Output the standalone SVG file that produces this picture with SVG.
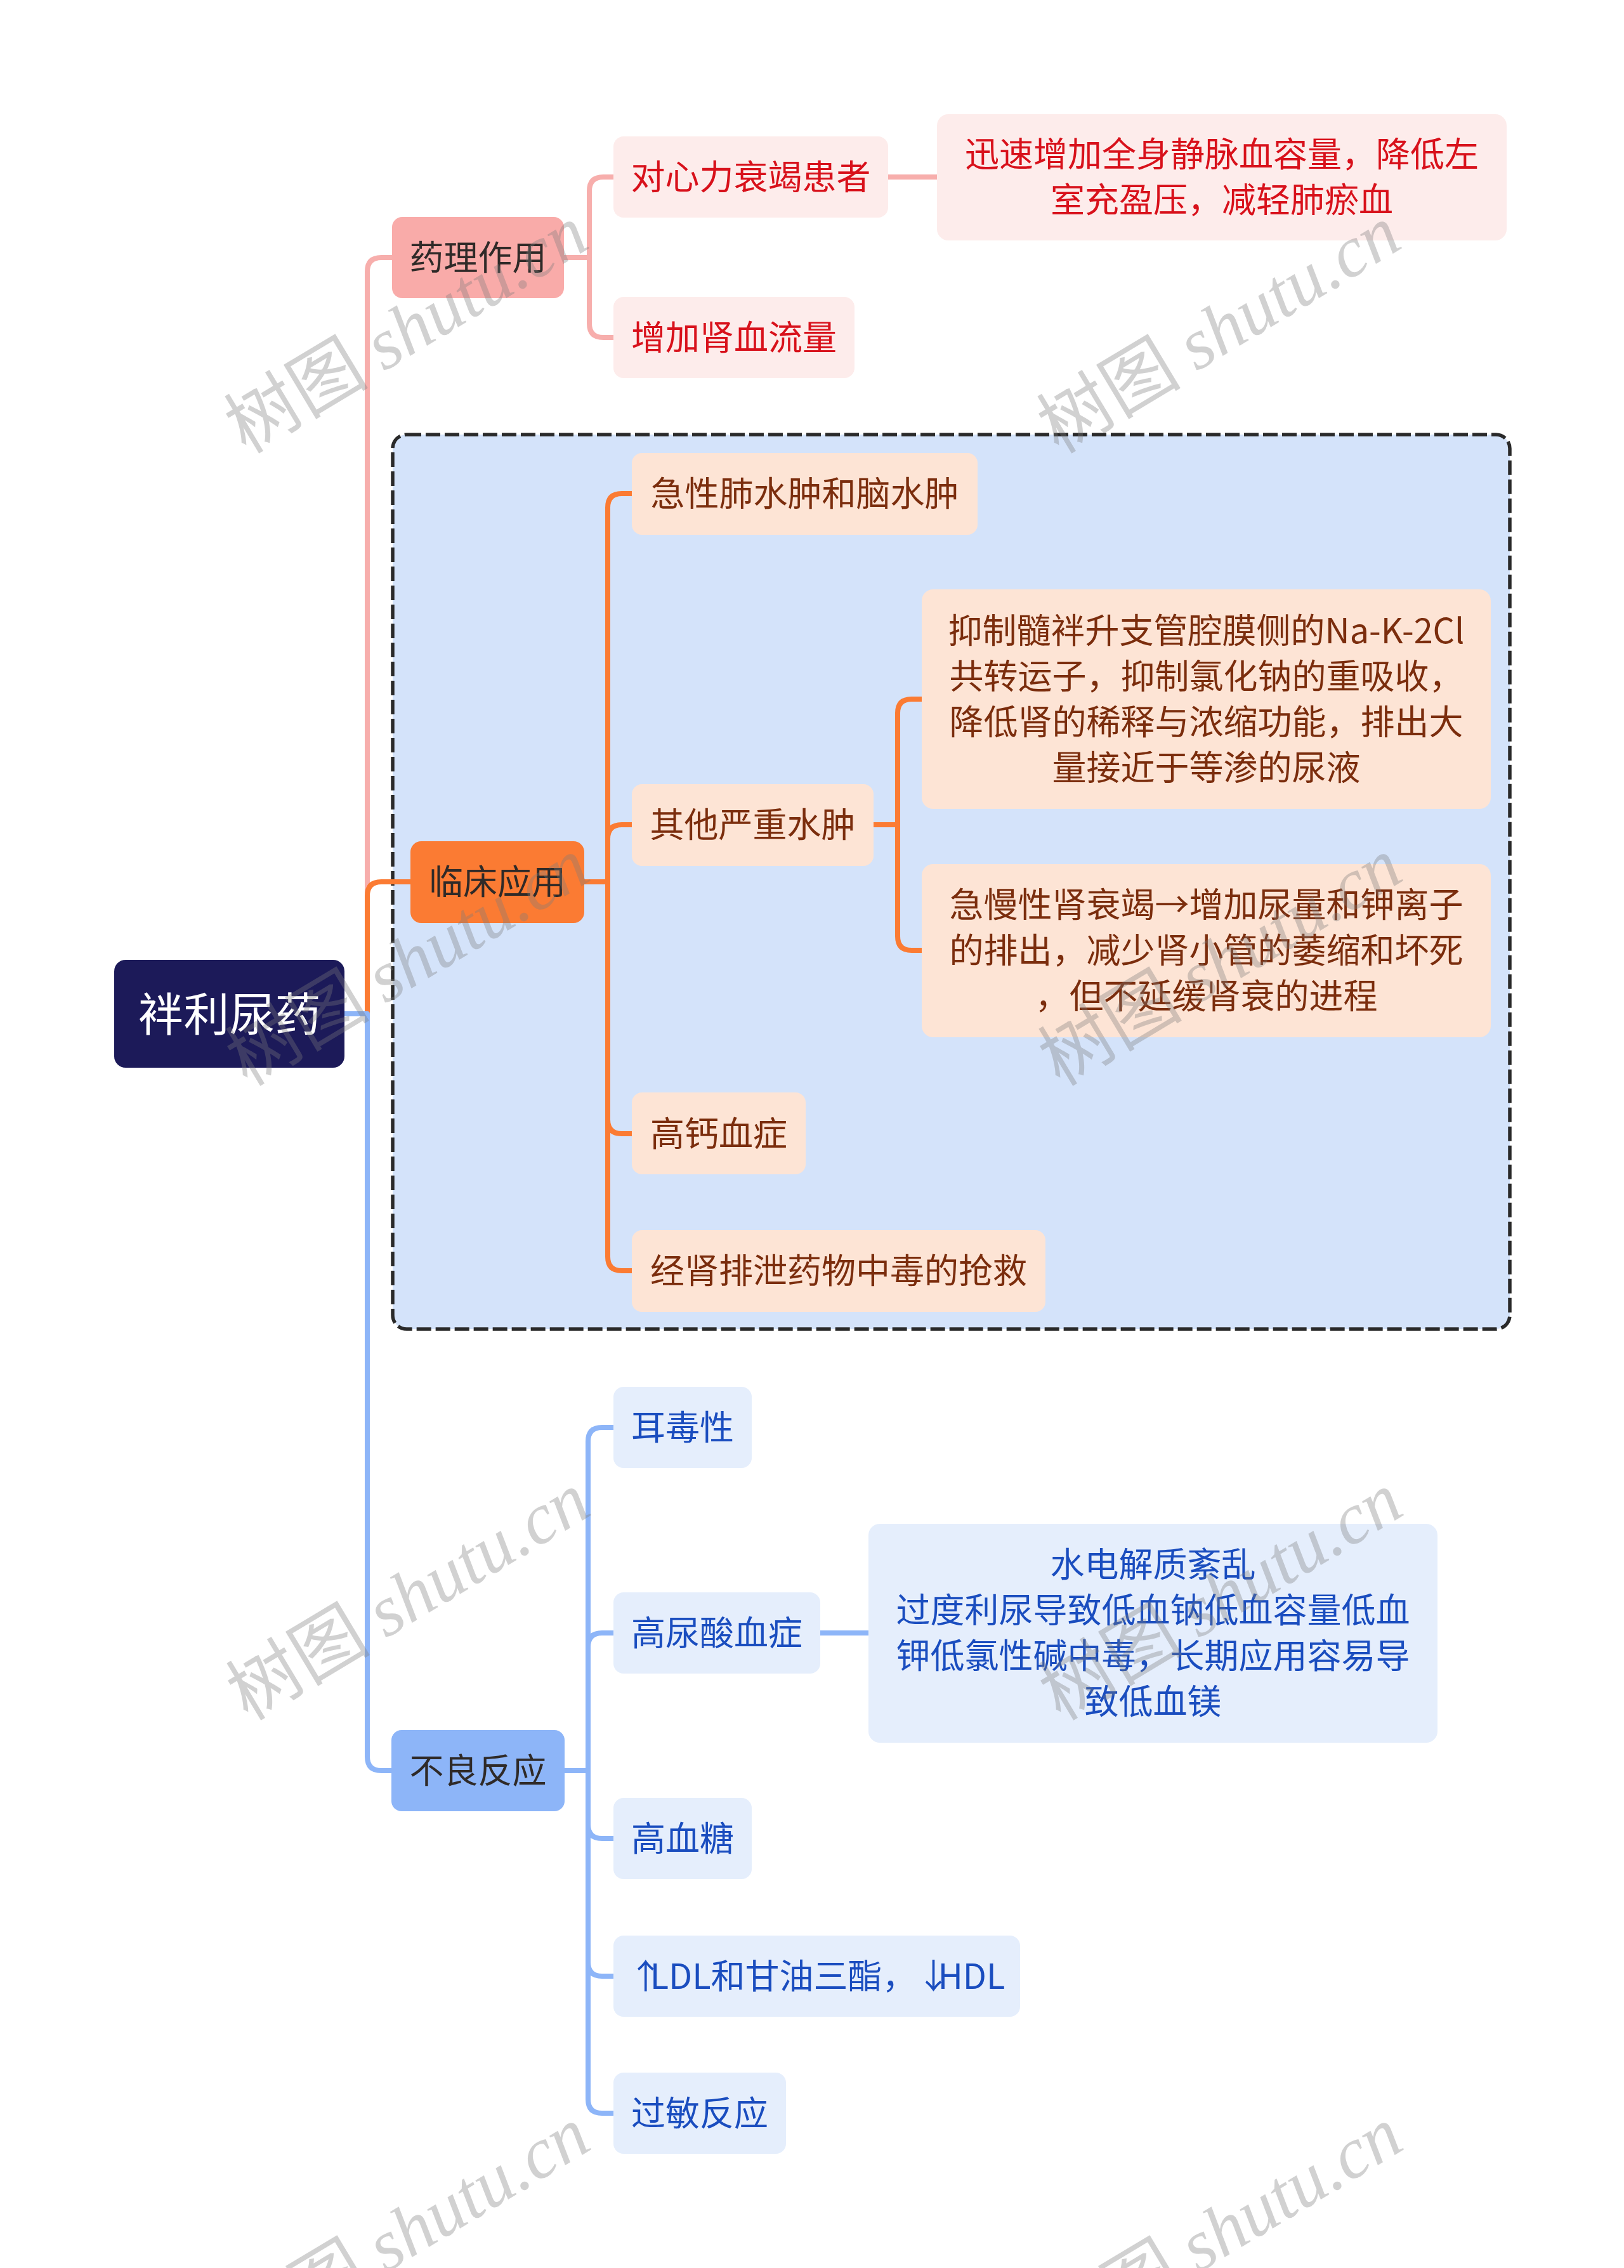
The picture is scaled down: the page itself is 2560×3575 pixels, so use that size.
<svg xmlns="http://www.w3.org/2000/svg" width="2560" height="3575" viewBox="0 0 2560 3575">
<style>
  text { font-family: "Noto Sans CJK SC", "Noto Sans", sans-serif; text-anchor: middle; }
  .root-box { fill: #1c1a59; }
  .root-txt { fill: #ffffff; font-size: 72px; }
  .l1-pink { fill: #f9aba9; }
  .l1-orange { fill: #fb7b33; }
  .l1-blue { fill: #8db5f8; }
  .l1-txt { fill: #2f2a28; font-size: 54px; }
  .n-pink { fill: #fdeceb; }
  .n-orange { fill: #fde4d5; }
  .n-blue { fill: #e5eefc; }
  .tx-pink { fill: #d8111b; font-size: 54px; }
  .tx-orange { fill: #7b2d0d; font-size: 54px; }
  .tx-blue { fill: #1a4dbf; font-size: 54px; }
  .c { fill: none; stroke-width: 8; stroke-linejoin: round; }
  .c-pink { stroke: #f7aeac; }
  .c-orange { stroke: #fb7b33; }
  .c-blue { stroke: #8db5f8; }
  .wm { fill: #7a7a7a; fill-opacity: 0.35; font-size: 114px; text-anchor: middle; }
  .wm-cjk { font-family: "Noto Sans CJK SC", serif; }
  .wm-lat { font-family: "Liberation Serif", serif; font-style: italic; }
</style>
<rect width="2560" height="3575" fill="#ffffff"/>

<g id="group-box">
  <rect x="619" y="685" width="1761" height="1410" rx="22" fill="#d4e3fa" stroke="#2a2a2a" stroke-width="5.5" stroke-dasharray="23 7"/>
</g>

<g id="connectors">
  <path class="c c-pink" d="M543,1598 H579 V428 Q579,406 601,406 H618"/>
  <path class="c c-orange" d="M543,1598 H579 V1412 Q579,1390 601,1390 H647"/>
  <path class="c c-blue" d="M543,1598 H579 V2769 Q579,2791 601,2791 H617"/>

  <path class="c c-pink" d="M889,406 H929 V301 Q929,279 951,279 H967"/>
  <path class="c c-pink" d="M889,406 H929 V510 Q929,532 951,532 H967"/>
  <path class="c c-pink" d="M1400,279 H1477"/>

  <path class="c c-orange" d="M921,1390 H958 V800 Q958,778 980,778 H996"/>
  <path class="c c-orange" d="M921,1390 H958 V1322 Q958,1300 980,1300 H996"/>
  <path class="c c-orange" d="M921,1390 H958 V1765 Q958,1787 980,1787 H996"/>
  <path class="c c-orange" d="M921,1390 H958 V1981 Q958,2003 980,2003 H996"/>
  <path class="c c-orange" d="M1377,1300 H1415 V1124 Q1415,1102 1437,1102 H1453"/>
  <path class="c c-orange" d="M1377,1300 H1415 V1476 Q1415,1498 1437,1498 H1453"/>

  <path class="c c-blue" d="M890,2791 H927 V2272 Q927,2250 949,2250 H967"/>
  <path class="c c-blue" d="M890,2791 H927 V2596 Q927,2574 949,2574 H967"/>
  <path class="c c-blue" d="M890,2791 H927 V2876 Q927,2898 949,2898 H967"/>
  <path class="c c-blue" d="M890,2791 H927 V3093 Q927,3115 949,3115 H967"/>
  <path class="c c-blue" d="M890,2791 H927 V3309 Q927,3331 949,3331 H967"/>
  <path class="c c-blue" d="M1293,2574 H1369"/>
</g>

<g id="root">
  <rect class="root-box" x="180" y="1513" width="363" height="170" rx="18"/>
  <text class="root-txt" x="361.5" y="1625">袢利尿药</text>
</g>

<g id="n-yaoli">
  <rect class="l1-pink" x="618" y="342" width="271" height="128" rx="16"/>
  <text class="l1-txt" x="753.5" y="426">药理作用</text>
</g>
<g id="n-xinli">
  <rect class="n-pink" x="967" y="215" width="433" height="128" rx="16"/>
  <text class="tx-pink" x="1183.5" y="299">对心力衰竭患者</text>
</g>
<g id="n-xunsu">
  <rect class="n-pink" x="1477" y="180" width="898" height="199" rx="18"/>
  <text class="tx-pink" x="1926" y="263">迅速增加全身静脉血容量，降低左</text>
  <text class="tx-pink" x="1926" y="335">室充盈压，减轻肺瘀血</text>
</g>
<g id="n-shenxue">
  <rect class="n-pink" x="967" y="468" width="380" height="128" rx="16"/>
  <text class="tx-pink" x="1157" y="552">增加肾血流量</text>
</g>

<g id="n-linchuang">
  <rect class="l1-orange" x="647" y="1326" width="274" height="129" rx="17"/>
  <text class="l1-txt" x="784" y="1410">临床应用</text>
</g>
<g id="n-jixing">
  <rect class="n-orange" x="996" y="714" width="545" height="129" rx="16"/>
  <text class="tx-orange" x="1268.5" y="798">急性肺水肿和脑水肿</text>
</g>
<g id="n-qita">
  <rect class="n-orange" x="996" y="1236" width="381" height="129" rx="16"/>
  <text class="tx-orange" x="1186.5" y="1320">其他严重水肿</text>
</g>
<g id="n-yizhi">
  <rect class="n-orange" x="1453" y="929" width="897" height="346" rx="18"/>
  <text class="tx-orange" x="1901.5" y="1014">抑制髓袢升支管腔膜侧的Na-K-2Cl</text>
  <text class="tx-orange" x="1901.5" y="1086">共转运子，抑制氯化钠的重吸收，</text>
  <text class="tx-orange" x="1901.5" y="1158">降低肾的稀释与浓缩功能，排出大</text>
  <text class="tx-orange" x="1901.5" y="1230">量接近于等渗的尿液</text>
</g>
<g id="n-jiman">
  <rect class="n-orange" x="1453" y="1362" width="897" height="273" rx="18"/>
  <text class="tx-orange" x="1901.5" y="1446">急慢性肾衰竭→增加尿量和钾离子</text>
  <text class="tx-orange" x="1901.5" y="1518">的排出，减少肾小管的萎缩和坏死</text>
  <text class="tx-orange" x="1901.5" y="1590">，但不延缓肾衰的进程</text>
</g>
<g id="n-gaogai">
  <rect class="n-orange" x="996" y="1722" width="274" height="129" rx="16"/>
  <text class="tx-orange" x="1133" y="1807">高钙血症</text>
</g>
<g id="n-jingshen">
  <rect class="n-orange" x="996" y="1939" width="652" height="129" rx="16"/>
  <text class="tx-orange" x="1322" y="2023">经肾排泄药物中毒的抢救</text>
</g>

<g id="n-buliang">
  <rect class="l1-blue" x="617" y="2727" width="273" height="128" rx="16"/>
  <text class="l1-txt" x="753.5" y="2811">不良反应</text>
</g>
<g id="n-erdu">
  <rect class="n-blue" x="967" y="2186" width="218" height="128" rx="16"/>
  <text class="tx-blue" x="1076" y="2270">耳毒性</text>
</g>
<g id="n-niaosuan">
  <rect class="n-blue" x="967" y="2510" width="326" height="128" rx="16"/>
  <text class="tx-blue" x="1130" y="2594">高尿酸血症</text>
</g>
<g id="n-shuidian">
  <rect class="n-blue" x="1369" y="2402" width="897" height="345" rx="18"/>
  <text class="tx-blue" x="1817.5" y="2486">水电解质紊乱</text>
  <text class="tx-blue" x="1817.5" y="2558">过度利尿导致低血钠低血容量低血</text>
  <text class="tx-blue" x="1817.5" y="2630">钾低氯性碱中毒，长期应用容易导</text>
  <text class="tx-blue" x="1817.5" y="2702">致低血镁</text>
</g>
<g id="n-xuetang">
  <rect class="n-blue" x="967" y="2834" width="218" height="128" rx="16"/>
  <text class="tx-blue" x="1076" y="2918">高血糖</text>
</g>
<g id="n-ldl">
  <rect class="n-blue" x="967" y="3051" width="641" height="128" rx="16"/>
  <text class="tx-blue" x="1287.5" y="3135"><tspan letter-spacing="-20">↑</tspan>LDL和甘油三酯，<tspan letter-spacing="-20">↓</tspan>HDL</text>
</g>
<g id="n-guomin">
  <rect class="n-blue" x="967" y="3267" width="272" height="128" rx="16"/>
  <text class="tx-blue" x="1103" y="3351">过敏反应</text>
</g>

<g id="watermarks">
  <text class="wm" transform="translate(641,520) rotate(-31)" y="38"><tspan class="wm-cjk">树图 </tspan><tspan class="wm-lat">shutu.cn</tspan></text>
  <text class="wm" transform="translate(1922,520) rotate(-31)" y="38"><tspan class="wm-cjk">树图 </tspan><tspan class="wm-lat">shutu.cn</tspan></text>
  <text class="wm" transform="translate(643,1517) rotate(-31)" y="38"><tspan class="wm-cjk">树图 </tspan><tspan class="wm-lat">shutu.cn</tspan></text>
  <text class="wm" transform="translate(1924,1517) rotate(-31)" y="38"><tspan class="wm-cjk">树图 </tspan><tspan class="wm-lat">shutu.cn</tspan></text>
  <text class="wm" transform="translate(644,2517) rotate(-31)" y="38"><tspan class="wm-cjk">树图 </tspan><tspan class="wm-lat">shutu.cn</tspan></text>
  <text class="wm" transform="translate(1925,2517) rotate(-31)" y="38"><tspan class="wm-cjk">树图 </tspan><tspan class="wm-lat">shutu.cn</tspan></text>
  <text class="wm" transform="translate(644,3517) rotate(-31)" y="38"><tspan class="wm-cjk">树图 </tspan><tspan class="wm-lat">shutu.cn</tspan></text>
  <text class="wm" transform="translate(1925,3517) rotate(-31)" y="38"><tspan class="wm-cjk">树图 </tspan><tspan class="wm-lat">shutu.cn</tspan></text>
</g>
</svg>
